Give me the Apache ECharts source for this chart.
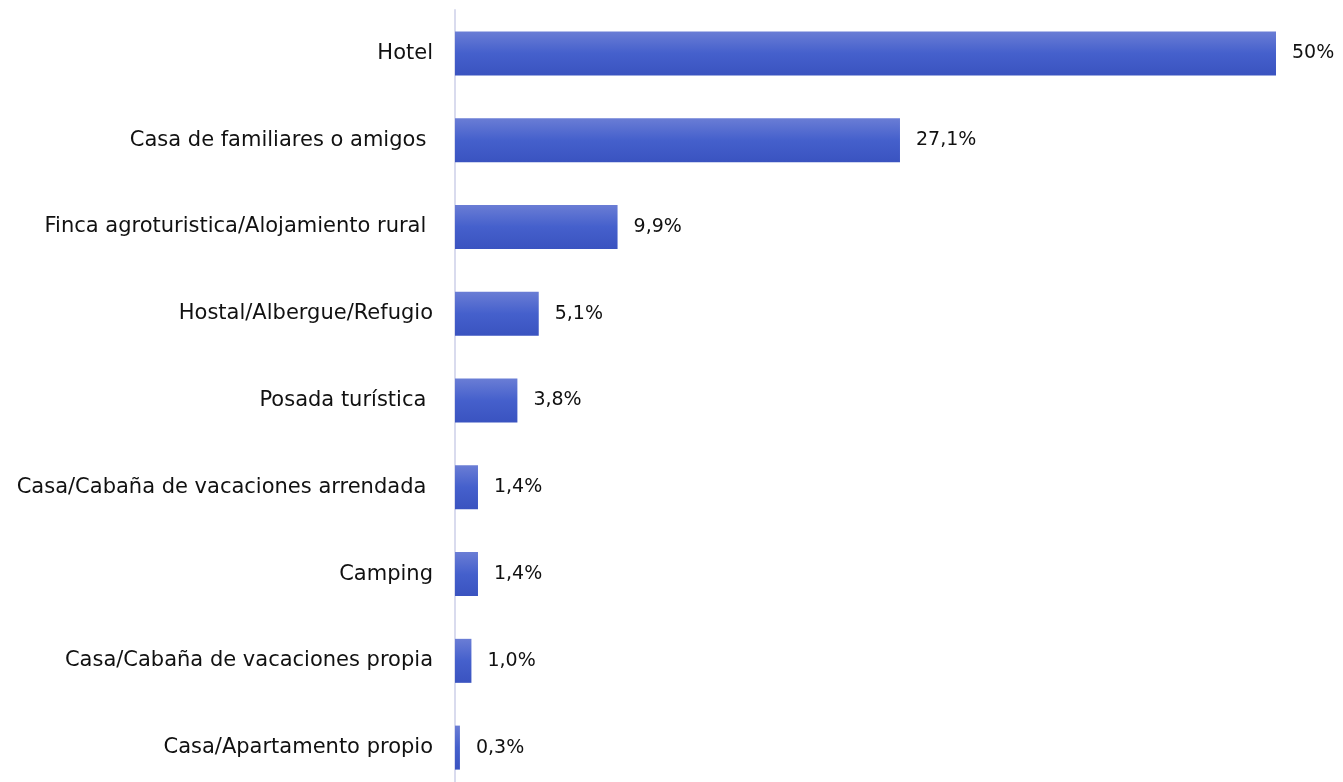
<!DOCTYPE html>
<html>
<head>
<meta charset="utf-8">
<script src="https://cdn.jsdelivr.net/npm/echarts@6/dist/echarts.min.js"></script>
<style>
html, body { margin: 0; padding: 0; background: #fff; }
#myChart { width: 1343px; height: 782px; }
</style>
</head>
<body>
<div id="myChart"></div>
<script>
// categorias (de arriba a abajo)
const categories = [
  'Hotel',
  'Casa de familiares o amigos ',
  'Finca agroturistica/Alojamiento rural ',
  'Hostal/Albergue/Refugio',
  'Posada turística ',
  'Casa/Cabaña de vacaciones arrendada ',
  'Camping',
  'Casa/Cabaña de vacaciones propia',
  'Casa/Apartamento propio'
]
const values = [50, 27.1, 9.9, 5.1, 3.8, 1.4, 1.4, 1.0, 0.3]
const valueLabels = ['50%', '27,1%', '9,9%', '5,1%', '3,8%', '1,4%', '1,4%', '1,0%', '0,3%']

let myChart = echarts.init(document.getElementById('myChart'))
myChart.setOption({
  animation: false,
  grid: { left: 455, top: 10, width: 821, bottom: -9, outerBoundsMode: 'none' },
  xAxis: {
    type: 'value',
    min: 0,
    max: 50,
    show: false
  },
  yAxis: {
    type: 'category',
    inverse: true,
    data: categories,
    axisLine: { show: true, lineStyle: { color: '#d9dbee', width: 2 } },
    axisTick: { show: false },
    axisLabel: {
      margin: 22,
      color: '#111',
      fontSize: 21,
      fontFamily: 'DejaVu Sans'
    }
  },
  series: [
    {
      type: 'bar',
      data: values,
      barWidth: 44,
      itemStyle: {
        color: new echarts.graphic.LinearGradient(0, 0, 0, 1, [
          { offset: 0, color: '#6a7dd5' },
          { offset: 0.5, color: '#4560cc' },
          { offset: 1, color: '#3a53c0' }
        ])
      },
      label: {
        show: true,
        position: 'right',
        distance: 16,
        color: '#111',
        fontSize: 19,
        fontFamily: 'DejaVu Sans',
        formatter: p => valueLabels[p.dataIndex]
      }
    }
  ]
})
</script>
</body>
</html>
